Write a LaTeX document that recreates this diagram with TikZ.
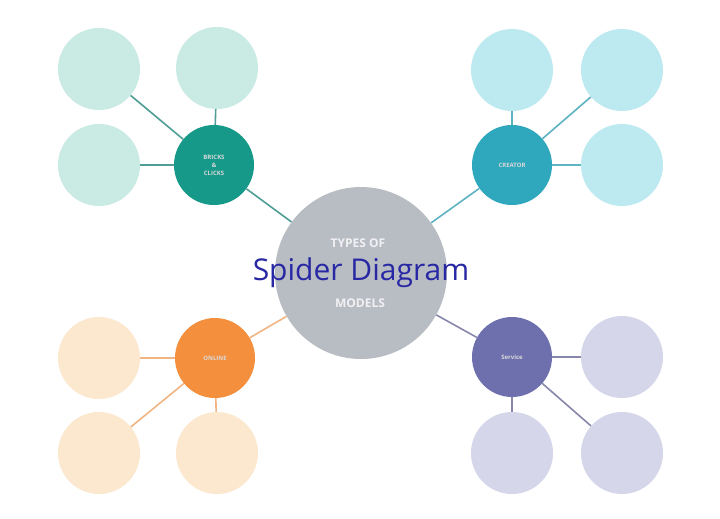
\documentclass[tikz,border=0pt]{standalone}
\usepackage{fontspec}
\setmainfont{Open Sans}
\begin{document}
\begin{tikzpicture}[x=1pt,y=-1pt,
  leaf/.style={circle,minimum size=82pt,inner sep=0pt},
  hub/.style={circle,minimum size=80pt,inner sep=0pt,font=\fontsize{6}{8}\selectfont\bfseries,align=center,text=white!85!black},
  ctext/.style={font=\fontsize{12}{13}\selectfont\bfseries,text=white!80!cenC,inner sep=1pt},
  link/.style={line width=1.6pt}]
\definecolor{tealH}{HTML}{17998A}
\definecolor{tealL}{HTML}{C9EBE3}
\definecolor{tealK}{HTML}{4E9E95}
\definecolor{blueH}{HTML}{2FA7BC}
\definecolor{blueL}{HTML}{BDEAF1}
\definecolor{blueK}{HTML}{5DB3C2}
\definecolor{orgH}{HTML}{F48F3E}
\definecolor{orgL}{HTML}{FBE8CF}
\definecolor{orgK}{HTML}{F1B483}
\definecolor{purH}{HTML}{6E70AE}
\definecolor{purL}{HTML}{D5D6E9}
\definecolor{purK}{HTML}{8787AC}
\definecolor{cenC}{HTML}{B8BCC3}
\definecolor{titleC}{HTML}{2828A4}
\fill[white] (0,0) rectangle (720,519);
\useasboundingbox (0,0) rectangle (720,519);
% center
\node[circle,minimum size=172pt,inner sep=0pt,fill=cenC] (c) at (361,273) {};
% top-left group
\node[hub,fill=tealH] (h1) at (214,165) {BRICKS\\\&\\CLICKS};
\node[leaf,fill=tealL] (l11) at (99,69) {};
\node[leaf,fill=tealL] (l12) at (217,68) {};
\node[leaf,fill=tealL] (l13) at (99,165) {};
% top-right group
\node[hub,fill=blueH] (h2) at (512,165) {CREATOR};
\node[leaf,fill=blueL] (l21) at (512,70) {};
\node[leaf,fill=blueL] (l22) at (622,70) {};
\node[leaf,fill=blueL] (l23) at (622,165) {};
% bottom-left group
\node[hub,fill=orgH] (h3) at (215,358) {ONLINE};
\node[leaf,fill=orgL] (l31) at (99,358) {};
\node[leaf,fill=orgL] (l32) at (99,453) {};
\node[leaf,fill=orgL] (l33) at (217,453) {};
% bottom-right group
\node[hub,fill=purH] (h4) at (512,357) {Service};
\node[leaf,fill=purL] (l41) at (622,357) {};
\node[leaf,fill=purL] (l42) at (512,453) {};
\node[leaf,fill=purL] (l43) at (622,453) {};
% connectors
\draw[link,tealK] (h1) -- (c);
\draw[link,tealK] (h1) -- (l11);
\draw[link,tealK] (h1) -- (l12);
\draw[link,tealK] (h1) -- (l13);
\draw[link,blueK] (h2) -- (c);
\draw[link,blueK] (h2) -- (l21);
\draw[link,blueK] (h2) -- (l22);
\draw[link,blueK] (h2) -- (l23);
\draw[link,orgK] (h3) -- (c);
\draw[link,orgK] (h3) -- (l31);
\draw[link,orgK] (h3) -- (l32);
\draw[link,orgK] (h3) -- (l33);
\draw[link,purK] (h4) -- (c);
\draw[link,purK] (h4) -- (l41);
\draw[link,purK] (h4) -- (l42);
\draw[link,purK] (h4) -- (l43);
% center text
\node[ctext] (ct1) at (358,243) {TYPES OF};
\node[ctext] (ct2) at (360,303) {MODELS};
\node[font=\fontsize{30}{32}\selectfont,text=titleC,inner sep=0pt] (title) at (361,273) {Spider Diagram};
\end{tikzpicture}
\end{document}
